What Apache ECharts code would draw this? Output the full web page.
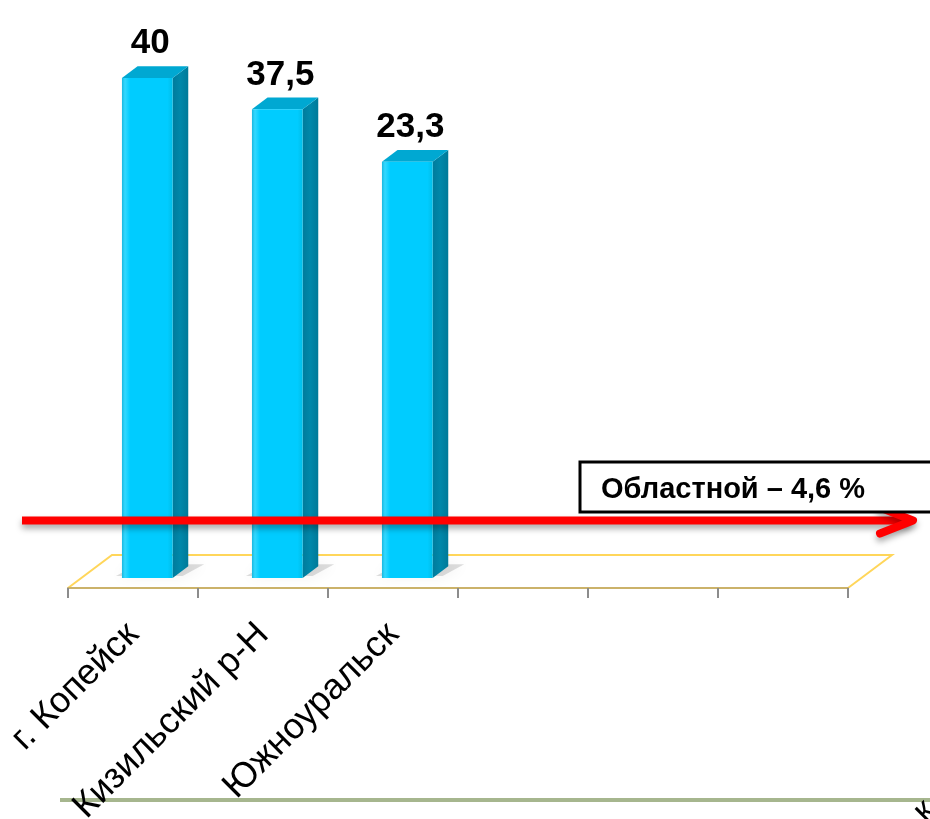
<!DOCTYPE html>
<html><head><meta charset="utf-8">
<script src="https://cdn.jsdelivr.net/npm/echarts@6/dist/echarts.min.js"></script>
<style>html,body{margin:0;padding:0;background:#fff;overflow:hidden}#c{width:930px;height:819px}</style>
</head><body><div id="c"></div>
<script>
// ---- data ----
const categories = ['г. Копейск', 'Кизильский р-Н', 'Южноуральск', '', '', ''];
// bar heights as drawn in the reference (third bar is drawn ~33 high although labelled 23,3)
const barHeights = [40, 37.5, 33.3];
const valueLabels = ['40', '37,5', '23,3'];
const regionalValue = 4.6;
const regionalLabel = 'Областной – 4,6 %';

const FONT = "'Liberation Sans', Arial, sans-serif";
const chart = echarts.init(document.getElementById('c'), null, {renderer: 'canvas'});

function renderBar(params, api) {
  const idx = api.value(0), v = api.value(1);
  const top = api.coord([idx, v]);
  const base = api.coord([idx, 0]);
  const band = api.size([1, 0])[0];
  const fw = band * 0.39;
  const x0 = top[0] - band * 0.085;
  const dx = band * 0.12, dy = band * 0.09;
  const x1 = x0 + fw;
  return {
    type: 'group',
    children: [
      { // soft floor shadow
        type: 'polygon',
        shape: {points: [[x0 - 6, base[1] - 2], [x1 + 10, base[1] - 2], [x1 + dx + 16, base[1] - dy - 2], [x0 + dx, base[1] - dy - 2]]},
        style: {fill: 'rgba(0,0,0,0.13)', shadowBlur: 14, shadowColor: 'rgba(0,0,0,0.5)'},
        z2: 0
      },
      { // side face
        type: 'polygon',
        shape: {points: [[x1, top[1]], [x1 + dx, top[1] - dy], [x1 + dx, base[1] - dy], [x1, base[1]]]},
        style: {fill: new echarts.graphic.LinearGradient(0, 0, 1, 0, [
          {offset: 0, color: '#007b9c'}, {offset: 0.5, color: '#0088aa'}, {offset: 1, color: '#007a99'}])},
        z2: 1
      },
      { // top face
        type: 'polygon',
        shape: {points: [[x0, top[1]], [x0 + dx, top[1] - dy], [x1 + dx, top[1] - dy], [x1, top[1]]]},
        style: {fill: '#00a8d2'},
        z2: 1
      },
      { // front face
        type: 'rect',
        shape: {x: x0, y: top[1], width: fw, height: base[1] - top[1]},
        style: {fill: new echarts.graphic.LinearGradient(0, 0, 1, 0, [
          {offset: 0, color: '#19b8e0'}, {offset: 0.06, color: '#33d8ff'}, {offset: 0.16, color: '#00ccff'},
          {offset: 0.9, color: '#00ccff'}, {offset: 1, color: '#00bde8'}])},
        z2: 2
      },
      { // value label
        type: 'text',
        x: x0 + fw / 2 + 3,
        y: top[1] - dy - 5,
        style: {text: valueLabels[params.dataIndex], fill: '#000', font: 'bold 35px ' + FONT,
          textAlign: 'center', textVerticalAlign: 'bottom'},
        z2: 3
      }
    ]
  };
}

chart.setOption({
  animation: false,
  backgroundColor: '#fff',
  grid: {left: 68, right: 82, top: 78, bottom: 241, containLabel: false, outerBoundsMode: 'none'},
  xAxis: {
    type: 'category',
    data: categories,
    offset: 10,
    axisLine: {show: true, onZero: false, lineStyle: {color: '#cbb26a', width: 2}},
    axisTick: {show: true, length: 10, lineStyle: {color: '#8c8c8c', width: 2}},
    axisLabel: {rotate: 45, margin: 41, interval: 0, color: '#000', fontSize: 36, fontFamily: FONT},
    splitLine: {show: false}
  },
  yAxis: {
    type: 'value', min: 0, max: 40,
    show: false, splitLine: {show: false}
  },
  series: [{
    type: 'custom',
    renderItem: renderBar,
    clip: false,
    data: barHeights.map((v, i) => [i, v]),
    encode: {x: 0, y: 1}
  }]
});

// decorations positioned from the axes
const cx0 = chart.convertToPixel({xAxisIndex: 0}, 0);
const cx1 = chart.convertToPixel({xAxisIndex: 0}, 1);
const bandW = cx1 - cx0;
const leftX = cx0 - bandW / 2;
const rightX = leftX + bandW * categories.length;
const baseY = chart.convertToPixel({yAxisIndex: 0}, 0);
const frontY = baseY + 10;
const backY = frontY - 33;
const depthX = 44;
const regY = chart.convertToPixel({yAxisIndex: 0}, regionalValue);

chart.setOption({
  graphic: [
    { // floor outline (back + sides)
      type: 'polyline', z: -5,
      shape: {points: [[leftX, frontY], [leftX + depthX, backY], [rightX + depthX, backY], [rightX, frontY]]},
      style: {stroke: '#ffd65a', lineWidth: 2, fill: null}
    },
    { // bottom green rule
      type: 'line', z: -10,
      shape: {x1: 60, y1: 800, x2: 930, y2: 800},
      style: {stroke: '#a6b68e', lineWidth: 4}
    },
    { // clipped label at bottom right
      type: 'text', z: -1,
      x: 930, y: 806, rotation: Math.PI / 4,
      style: {text: 'к', font: '35px ' + FONT, fill: '#000', textAlign: 'right', textVerticalAlign: 'middle'}
    },
    { // regional arrow shaft
      type: 'line', z: 10,
      shape: {x1: 22, y1: regY, x2: 910, y2: regY},
      style: {stroke: '#ff0000', lineWidth: 8, shadowBlur: 6, shadowColor: 'rgba(0,0,0,0.35)', shadowOffsetY: 4}
    },
    { // arrow head
      type: 'polyline', z: 10,
      shape: {points: [[880, regY - 13], [913, regY], [880, regY + 13]]},
      style: {stroke: '#ff0000', lineWidth: 8, lineCap: 'round', lineJoin: 'round', fill: null,
        shadowBlur: 6, shadowColor: 'rgba(0,0,0,0.35)', shadowOffsetY: 4}
    },
    { // label box
      type: 'rect', z: 11,
      shape: {x: 580, y: 462, width: 380, height: 50},
      style: {fill: '#fff', stroke: '#000', lineWidth: 3}
    },
    {
      type: 'text', z: 12,
      x: 601, y: 490,
      style: {text: regionalLabel, font: 'bold 29px ' + FONT, fill: '#000', textAlign: 'left', textVerticalAlign: 'middle'}
    }
  ]
});
</script></body></html>
